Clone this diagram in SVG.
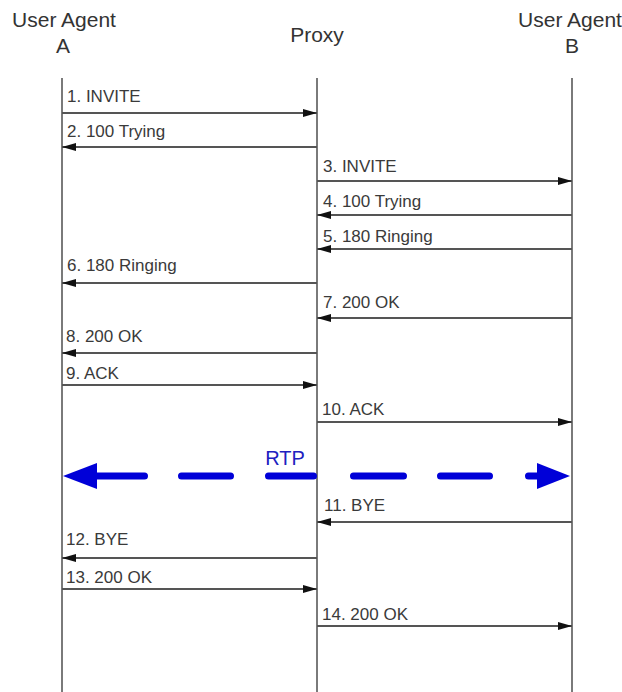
<svg xmlns="http://www.w3.org/2000/svg" width="622" height="692" viewBox="0 0 622 692">
  <defs>
    <marker id="ah" markerUnits="userSpaceOnUse" markerWidth="15" markerHeight="9" refX="14" refY="4" orient="auto">
      <path d="M0,0 L14,4 L0,8 z" fill="#111"/>
    </marker>
    <style>
      .hdr { font-family: "Liberation Sans", Arial, sans-serif; font-size: 21px; fill: #333; text-anchor: middle; }
      .life { stroke: #7a7a7a; stroke-width: 2; fill: none; }
      .msg { stroke: #555; stroke-width: 2; fill: none; marker-end: url(#ah); }
      .lbl { font-family: "Liberation Sans", Arial, sans-serif; font-size: 17px; fill: #3a3a3a; }
      .rtp { stroke: #0000d8; stroke-width: 7; stroke-linecap: round; fill: none; }
      .rtph { fill: #0000d8; }
      .rtpt { font-family: "Liberation Sans", Arial, sans-serif; font-size: 20px; fill: #2020c0; text-anchor: middle; }
    </style>
  </defs>
  <rect width="622" height="692" fill="#fff"/>

  <g id="ua-a">
    <text class="hdr" x="64" y="27">User Agent</text>
    <text class="hdr" x="63" y="53">A</text>
    <line class="life" x1="62" y1="78" x2="62" y2="692"/>
  </g>
  <g id="proxy">
    <text class="hdr" x="317" y="42">Proxy</text>
    <line class="life" x1="317" y1="78" x2="317" y2="692"/>
  </g>
  <g id="ua-b">
    <text class="hdr" x="570" y="27">User Agent</text>
    <text class="hdr" x="572" y="53">B</text>
    <line class="life" x1="572" y1="78" x2="572" y2="692"/>
  </g>

  <g id="connectors">
    <line class="msg" x1="62" y1="113" x2="317" y2="113"/>
    <text class="lbl" x="67" y="102">1. INVITE</text>
    <line class="msg" x1="317" y1="147" x2="62" y2="147"/>
    <text class="lbl" x="67" y="137">2. 100 Trying</text>
    <line class="msg" x1="317" y1="181" x2="572" y2="181"/>
    <text class="lbl" x="323" y="172">3. INVITE</text>
    <line class="msg" x1="572" y1="215" x2="317" y2="215"/>
    <text class="lbl" x="323" y="207">4. 100 Trying</text>
    <line class="msg" x1="572" y1="249" x2="317" y2="249"/>
    <text class="lbl" x="323" y="242">5. 180 Ringing</text>
    <line class="msg" x1="317" y1="283" x2="62" y2="283"/>
    <text class="lbl" x="67" y="271">6. 180 Ringing</text>
    <line class="msg" x1="572" y1="318" x2="317" y2="318"/>
    <text class="lbl" x="323" y="308">7. 200 OK</text>
    <line class="msg" x1="317" y1="353" x2="62" y2="353"/>
    <text class="lbl" x="66" y="342">8. 200 OK</text>
    <line class="msg" x1="62" y1="385" x2="317" y2="385"/>
    <text class="lbl" x="66" y="379">9. ACK</text>
    <line class="msg" x1="317" y1="422" x2="572" y2="422"/>
    <text class="lbl" x="322" y="415">10. ACK</text>

    <g id="rtp">
      <text class="rtpt" x="285" y="465">RTP</text>
      <path class="rtp" d="M92 476 H144.5 M181.5 476 H230.5 M268.5 476 H313.5 M353.5 476 H403.5 M440.5 476 H489.5 M528.5 476 H545"/>
      <polygon class="rtph" points="63,476 97,463 97,489"/>
      <polygon class="rtph" points="570,476 537,463 537,489"/>
    </g>

    <line class="msg" x1="572" y1="522" x2="317" y2="522"/>
    <text class="lbl" x="324" y="511">11. BYE</text>
    <line class="msg" x1="317" y1="558" x2="62" y2="558"/>
    <text class="lbl" x="66" y="545">12. BYE</text>
    <line class="msg" x1="62" y1="589" x2="317" y2="589"/>
    <text class="lbl" x="66" y="583">13. 200 OK</text>
    <line class="msg" x1="317" y1="626" x2="572" y2="626"/>
    <text class="lbl" x="322" y="620">14. 200 OK</text>
  </g>
</svg>
